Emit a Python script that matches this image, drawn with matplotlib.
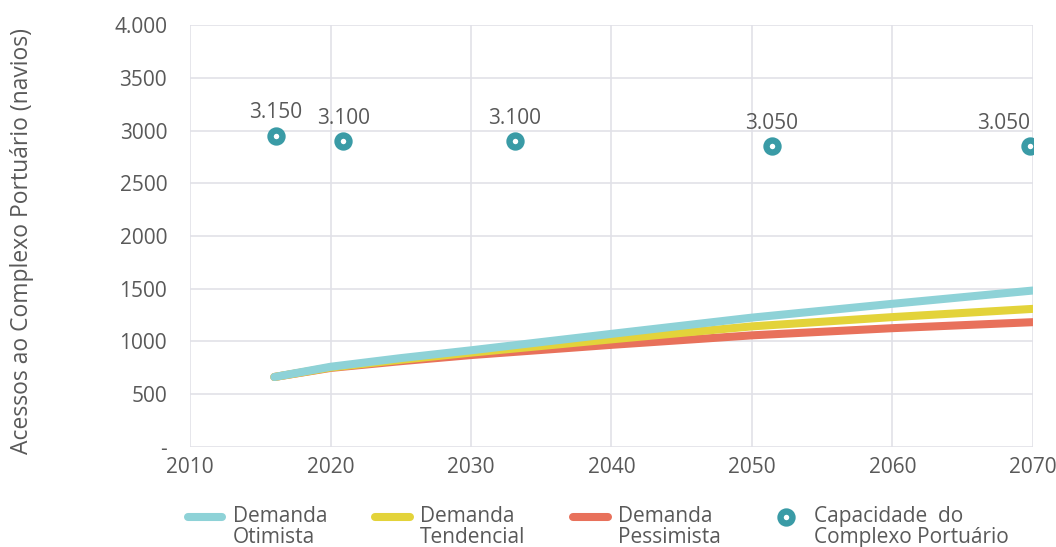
import matplotlib
matplotlib.use("Agg")
import matplotlib.pyplot as plt
from matplotlib.ticker import FixedLocator
from matplotlib.legend_handler import HandlerLine2D

plt.rcParams['font.family'] = ['Open Sans', 'DejaVu Sans']

# demand projections (navios)
years = [2016, 2020, 2025, 2030, 2040, 2050, 2060, 2070]
dem_otimista = [663, 760, 842, 916, 1072, 1226, 1357, 1483]
dem_tendencial = [663, 753, 826, 894, 1020, 1143, 1231, 1309]
dem_pessimista = [663, 749, 813, 871, 968, 1058, 1126, 1183]

# capacity of the port complex
cap_years = [2016.1, 2020.9, 2033.1, 2051.4, 2069.8]
cap_values = [2950, 2900, 2900, 2850, 2850]
cap_labels = ['3.150', '3.100', '3.100', '3.050', '3.050']

x_ticks = [2010, 2020, 2030, 2040, 2050, 2060, 2070]
y_ticks = [0, 500, 1000, 1500, 2000, 2500, 3000, 3500, 4000]
y_labels = ['-', '500', '1000', '1500', '2000', '2500', '3000', '3500', '4.000']

c_oti = '#8ed2d7'
c_ten = '#e3d33a'
c_pes = '#e8715b'
c_cap = '#3a9ba6'
txt = '#595959'
grid_c = '#e1e1e8'


class UpHandler(HandlerLine2D):
    # put the legend key next to the first line of the label
    def create_artists(self, *args, **kw):
        arts = super().create_artists(*args, **kw)
        for a in arts:
            a.set_ydata([y + 8 for y in a.get_ydata()])
        return arts


fig = plt.figure(figsize=(10.56, 5.47), dpi=100)
ax = fig.add_axes([0.18, 0.183, 0.798, 0.771])

lw = 5.8
l3, = ax.plot(years, dem_pessimista, color=c_pes, lw=lw, solid_capstyle='round', zorder=3)
l2, = ax.plot(years, dem_tendencial, color=c_ten, lw=lw, solid_capstyle='round', zorder=4)
l1, = ax.plot(years, dem_otimista, color=c_oti, lw=lw, solid_capstyle='round', zorder=5)
sc, = ax.plot(cap_years, cap_values, ls='none', marker='o', ms=8.6, mew=4.6,
              mfc='white', mec=c_cap, zorder=6)

for i, (x, y, s) in enumerate(zip(cap_years, cap_values, cap_labels)):
    ha = 'right' if i == len(cap_years) - 1 else 'center'
    ax.annotate(s, (x, y), xytext=(0, 9), textcoords='offset points',
                ha=ha, va='bottom', fontsize=15, color=txt)

ax.set_xlim(2010, 2070)
ax.set_ylim(0, 4000)
ax.xaxis.set_major_locator(FixedLocator(x_ticks))
ax.set_yticks(y_ticks)
ax.set_yticklabels(y_labels)
ax.tick_params(axis='both', length=0, labelsize=15, labelcolor=txt)
ax.tick_params(axis='y', pad=16.5)
ax.tick_params(axis='x', pad=7)
ax.grid(True, color=grid_c, lw=1.2)
ax.set_axisbelow(True)
for sp in ax.spines.values():
    sp.set_visible(False)

fig.text(0.021, 0.56, 'Acessos ao Complexo Portuário (navios)', rotation=90,
         ha='center', va='center', fontsize=16.5, color=txt)

leg = fig.legend([l1, l2, l3, sc],
                 ['Demanda\nOtimista', 'Demanda\nTendencial', 'Demanda\nPessimista',
                  'Capacidade  do\nComplexo Portuário'],
                 loc='upper left', bbox_to_anchor=(0.178, 0.075), ncol=4, frameon=False,
                 fontsize=15, handlelength=1.65, handletextpad=0.5,
                 columnspacing=2.3, borderpad=0, borderaxespad=0,
                 handler_map={l1: UpHandler(), l2: UpHandler(), l3: UpHandler(),
                              sc: UpHandler()})
for t in leg.get_texts():
    t.set_color(txt)
    t.set_linespacing(1.0)

fig.savefig('out.png', dpi=100)
